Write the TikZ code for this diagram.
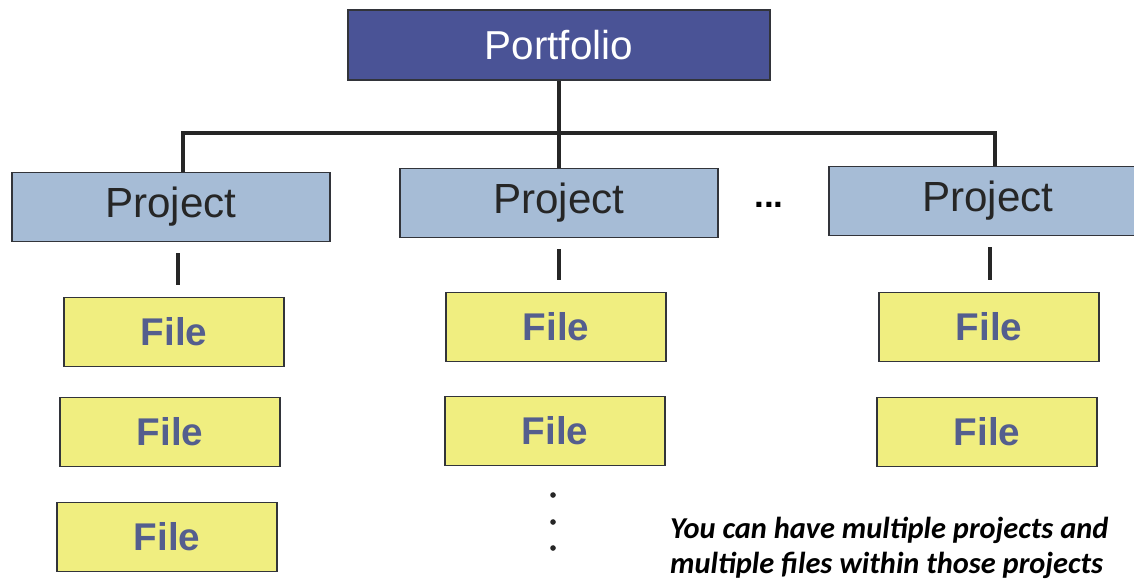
\documentclass[tikz,border=0pt]{standalone}
\usepackage{fontspec}
\setmainfont{Liberation Sans}
\newfontfamily\notefont{Carlito}
\usetikzlibrary{calc}
\definecolor{portfill}{RGB}{74, 83, 150}
\definecolor{projfill}{RGB}{166, 188, 214}
\definecolor{filefill}{RGB}{240, 238, 128}
\definecolor{filetext}{RGB}{84, 94, 142}
\definecolor{boxline}{RGB}{50, 52, 58}
\tikzset{
    portbox/.style={draw=boxline, line width=1.1pt, fill=portfill,
        minimum width=8.46cm, minimum height=1.4cm, text=white,
        font=\fontsize{23}{26}\selectfont},
    projbox/.style={draw=boxline, line width=1.1pt, fill=projfill,
        minimum width=6.36cm, minimum height=1.38cm, text=black!85,
        font=\fontsize{24}{27}\selectfont},
    filebox/.style={draw=boxline, line width=1.1pt, fill=filefill,
        minimum width=4.4cm, minimum height=1.38cm, text=filetext,
        font=\fontsize{22}{26}\selectfont\bfseries},
    link/.style={draw=black!85, line width=2.2pt},
    stub/.style={draw=black!85, line width=2.6pt, shorten <=0.22cm,
        shorten >=0.24cm},
}

\begin{document}
\begin{tikzpicture}[x=0.02cm, y=-0.02cm]
    \useasboundingbox (0, 0) rectangle (1134, 581);
    % top of the tree
    \node[portbox] (port) at (559, 45) {Portfolio};
    \coordinate (bus) at (562, 133);
    % projects
    \node[projbox] (p1) at (171, 207) {Project};
    \node[projbox] (p2) at (559, 203) {Project};
    \node[projbox] (p3) at (988, 201) {Project};
    \node[font=\fontsize{20}{22}\selectfont\bfseries] (more) at (769, 205) {...};
    % files under each project
    \node[filebox] (f11) at (174, 332) {File};
    \node[filebox] (f12) at (170, 432) {File};
    \node[filebox] (f13) at (167, 537) {File};
    \node[filebox] (f21) at (556, 327) {File};
    \node[filebox] (f22) at (555, 431) {File};
    \node[filebox] (f31) at (989, 327) {File};
    \node[filebox] (f32) at (987, 432) {File};
    % connectors
    \draw[link] (port.south) -- (p2.north);
    \draw[link] ([xshift=0.24cm]p1.north) |- (bus) -| ([xshift=0.14cm]p3.north);
    \draw[stub] ([xshift=0.14cm]p1.south) -- ([xshift=0.14cm]p1.south |- f11.north);
    \draw[stub] (p2.south) -- (p2.south |- f21.north);
    \draw[stub] ([xshift=0.04cm]p3.south) -- ([xshift=0.04cm]p3.south |- f31.north);
    \foreach \y in {495, 522, 548} {
        \fill[black!85] (553, \y) circle (1.6pt);
    }
    \node[anchor=west, align=left, font=\notefont\fontsize{17.3}{19.5}\selectfont\bfseries\itshape]
        (note) at (664, 548) {You can have multiple projects and\\multiple files within those projects};
\end{tikzpicture}
\end{document}
